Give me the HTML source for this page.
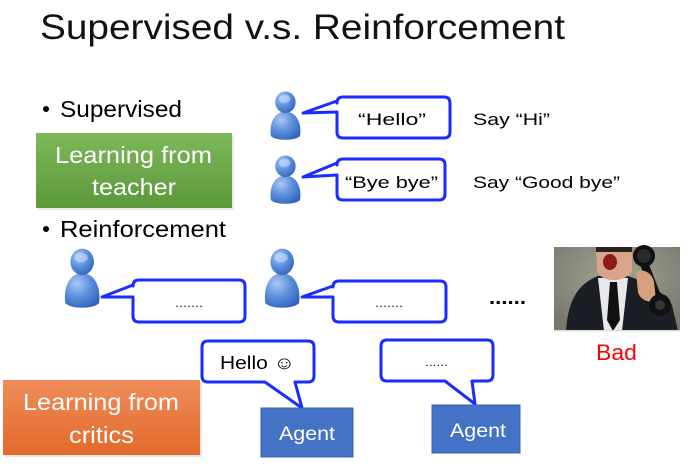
<!DOCTYPE html>
<html><head><meta charset="utf-8"><style>
html,body{margin:0;padding:0;background:#fff;}
svg{display:block;}
text{font-family:"Liberation Sans","DejaVu Sans",sans-serif;}
</style></head><body>
<svg width="690" height="466" viewBox="0 0 690 466" xmlns="http://www.w3.org/2000/svg">
<defs>
<radialGradient id="pg" cx="0.35" cy="0.3" r="0.8">
<stop offset="0" stop-color="#a9c8f4"/><stop offset="0.5" stop-color="#5b8fde"/><stop offset="1" stop-color="#2f62b8"/>
</radialGradient>
<linearGradient id="gg" x1="0" y1="0" x2="0" y2="1"><stop offset="0" stop-color="#7db85a"/><stop offset="1" stop-color="#5c993a"/></linearGradient>
<linearGradient id="og" x1="0" y1="0" x2="0" y2="1"><stop offset="0" stop-color="#ef8d5a"/><stop offset="1" stop-color="#e2692a"/></linearGradient>
<radialGradient id="bg" cx="0.5" cy="0.35" r="0.7"><stop offset="0" stop-color="#a3a396"/><stop offset="1" stop-color="#77776b"/></radialGradient>
<g id="person">
<path d="M3,46 C1,34 6,21 18,21 C30,21 35,34 33,46 C28,51 8,51 3,46 Z" fill="url(#pg)"/>
<ellipse cx="18" cy="11.5" rx="10.5" ry="11" fill="url(#pg)"/>
<ellipse cx="17" cy="8" rx="6" ry="4" fill="#c6dcf8" opacity="0.6"/>
</g>
</defs>

<text x="40" y="39" font-size="35" textLength="525" lengthAdjust="spacingAndGlyphs" fill="#111">Supervised v.s. Reinforcement</text>

<circle cx="46" cy="109" r="3" fill="#000"/>
<text x="60" y="117" font-size="23" textLength="122" lengthAdjust="spacingAndGlyphs" fill="#000">Supervised</text>

<rect x="38" y="135" width="196" height="75" fill="#cfcfcf" opacity="0.5"/>
<rect x="36" y="133" width="196" height="75" fill="url(#gg)"/>
<text x="55" y="163" font-size="23" textLength="157" lengthAdjust="spacingAndGlyphs" fill="#fff">Learning from</text>
<text x="92" y="195" font-size="23" textLength="84" lengthAdjust="spacingAndGlyphs" fill="#fff">teacher</text>

<circle cx="46" cy="229" r="3" fill="#000"/>
<text x="60" y="237" font-size="23" textLength="166" lengthAdjust="spacingAndGlyphs" fill="#000">Reinforcement</text>

<!-- supervised persons -->
<use href="#person" transform="translate(268,91) scale(0.97,0.98)"/>
<use href="#person" transform="translate(268,155) scale(0.97,0.98)"/>

<g fill="#fff" stroke="#1a2cff" stroke-width="3" stroke-linejoin="round">
<path d="M343,97 H444 Q450,97 450,103 V132 Q450,138 444,138 H343 Q337,138 337,132 V112 L303,113 L337,101 V103 Q337,97 343,97 Z"/>
<path d="M343,159 H439 Q445,159 445,165 V194 Q445,200 439,200 H343 Q337,200 337,194 V175 L303,177 L337,163 V165 Q337,159 343,159 Z"/>
<path d="M139,280 H239 Q245,280 245,286 V316 Q245,322 239,322 H139 Q133,322 133,316 V297 L102,297 L133,285 V286 Q133,280 139,280 Z"/>
<path d="M339,281 H440 Q446,281 446,287 V316 Q446,322 440,322 H339 Q333,322 333,316 V297 L302,297 L333,286 V287 Q333,281 339,281 Z"/>
<path d="M208,341 H308 Q314,341 314,347 V376 Q314,382 308,382 H295 L302,408 L265,382 H208 Q202,382 202,376 V347 Q202,341 208,341 Z"/>
<path d="M387,340 H487 Q493,340 493,346 V375 Q493,381 487,381 H472 L475,404 L445,381 H387 Q381,381 381,375 V346 Q381,340 387,340 Z"/>
</g>

<text x="358" y="125" font-size="17" textLength="68" lengthAdjust="spacingAndGlyphs" fill="#000">“Hello”</text>
<text x="473" y="125" font-size="17" textLength="77" lengthAdjust="spacingAndGlyphs" fill="#000">Say “Hi”</text>
<text x="345" y="188" font-size="17" textLength="93" lengthAdjust="spacingAndGlyphs" fill="#000">“Bye bye”</text>
<text x="473" y="188" font-size="17" textLength="147" lengthAdjust="spacingAndGlyphs" fill="#000">Say “Good bye”</text>

<!-- reinforcement persons -->
<use href="#person" transform="translate(62,248) scale(1.12,1.2)"/>
<use href="#person" transform="translate(262,248) scale(1.12,1.2)"/>

<text x="175" y="307" font-size="13" textLength="28" lengthAdjust="spacingAndGlyphs" fill="#222">.......</text>
<text x="375" y="307" font-size="13" textLength="28" lengthAdjust="spacingAndGlyphs" fill="#222">.......</text>
<text x="489" y="304" font-size="20" font-weight="bold" textLength="37" lengthAdjust="spacingAndGlyphs" fill="#000">......</text>

<!-- photo -->
<g>
<rect x="554" y="247" width="126" height="84" fill="url(#bg)"/>
<path d="M566,331 C568,300 578,284 598,276 L628,276 C646,282 662,290 672,305 L678,331 Z" fill="#1c1e26"/>
<path d="M598,278 L628,278 L622,331 L604,331 Z" fill="#e8e8ec"/>
<path d="M610,282 L617,282 L620,320 L613,331 L607,320 Z" fill="#111"/>
<path d="M596,247 L632,247 L632,270 C628,282 604,284 597,272 Z" fill="#d9a58a"/>
<path d="M596,247 L632,247 L632,252 L596,252 Z" fill="#2a2220"/>
<ellipse cx="610" cy="262" rx="7" ry="8" fill="#8a1c1c"/>
<circle cx="644" cy="256" r="11" fill="#111"/>
<circle cx="644" cy="256" r="7" fill="#2a2a2a"/>
<path d="M640,265 L655,300 L662,298 L648,262 Z" fill="#111"/>
<path d="M636,272 C642,268 652,272 654,282 L656,300 C650,304 640,300 638,292 Z" fill="#d4a07f"/>
<circle cx="660" cy="305" r="11" fill="#111"/>
<circle cx="660" cy="305" r="5" fill="#333"/>
<rect x="554" y="330" width="126" height="1.5" fill="#ddd"/>
</g>
<text x="596" y="360" font-size="22" textLength="41" lengthAdjust="spacingAndGlyphs" fill="#ff0000">Bad</text>

<!-- orange box -->
<rect x="5" y="382" width="197" height="75" fill="#cfcfcf" opacity="0.5"/>
<rect x="3" y="380" width="197" height="75" fill="url(#og)"/>
<text x="23" y="410" font-size="23" textLength="156" lengthAdjust="spacingAndGlyphs" fill="#fff">Learning from</text>
<text x="69" y="443" font-size="23" textLength="65" lengthAdjust="spacingAndGlyphs" fill="#fff">critics</text>

<text x="220" y="369" font-size="18" textLength="75" lengthAdjust="spacingAndGlyphs" fill="#000">Hello ☺</text>
<text x="425" y="366" font-size="12" textLength="23" lengthAdjust="spacingAndGlyphs" fill="#222">......</text>

<!-- agents -->
<rect x="261" y="408" width="92" height="49" fill="#4472c4" stroke="#3b62a8" stroke-width="1"/>
<text x="279" y="440" font-size="19" textLength="56" lengthAdjust="spacingAndGlyphs" fill="#fff">Agent</text>
<rect x="432" y="405" width="88" height="48" fill="#4472c4" stroke="#3b62a8" stroke-width="1"/>
<text x="450" y="437" font-size="19" textLength="56" lengthAdjust="spacingAndGlyphs" fill="#fff">Agent</text>
</svg>
</body></html>
